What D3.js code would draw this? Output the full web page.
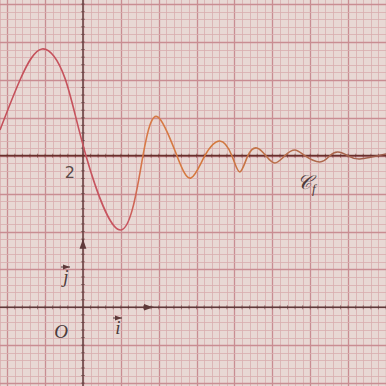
<!DOCTYPE html>
<html>
<head>
<meta charset="utf-8">
<script src="https://cdn.jsdelivr.net/npm/d3@7/dist/d3.min.js"></script>
<style>
  html, body { margin: 0; padding: 0; background: #e8d8d4; }
  svg { display: block; }
</style>
</head>
<body>
<svg id="chart" width="386" height="386"></svg>
<script>
// Curve C_f : sampled points (x, y) in graph units
const curveX = [-1.095, -0.831, -0.541, -0.237, 0.040, 0.501, 0.792, 0.989, 1.240, 1.425,
                1.609, 1.807, 1.966, 2.071, 2.177, 2.296, 2.414, 2.533, 2.665, 2.797,
                2.929, 3.127, 3.259, 3.364, 3.496, 3.654, 4.000];
const curveY = [2.339, 2.999, 3.408, 3.020, 2.000, 1.020, 2.000, 2.511, 2.000, 1.706,
                2.000, 2.194, 2.000, 1.785, 2.000, 2.102, 2.000, 1.904, 2.000, 2.075,
                2.000, 1.917, 2.000, 2.049, 2.000, 1.957, 2.022];
// Horizontal asymptote y = 2
const asymptoteY = 2;
const yTickLabels = ["2"];
// Unit vectors i and j
const unitVectors = [{name: "i", dx: 1, dy: 0}, {name: "j", dx: 0, dy: 1}];

const W = 386, H = 386;
const svg = d3.select("#chart");

const x = d3.scaleLinear().domain([-1.095, 4.0]).range([0, 386]);
const y = d3.scaleLinear().domain([0, 2]).range([307.3, 155.7]);

// Paper background
svg.append("rect").attr("width", W).attr("height", H).attr("fill", "#e8d8d4");

// Millimetre grid: minor every 0.1, major every 0.5
const xs = d3.range(-11, 41).map(k => k / 10);
const ys = d3.range(-11, 42).map(k => k / 10);
const grid = svg.append("g");
const isMajor = v => Math.abs(Math.round(v * 10) % 5) === 0;
const minorCol = "#d8adae", majorCol = "#c98d92";
grid.selectAll("line.vx").data(xs).join("line")
  .attr("x1", d => Math.round(x(d)) + 0.5).attr("x2", d => Math.round(x(d)) + 0.5)
  .attr("y1", 0).attr("y2", H)
  .attr("stroke", d => isMajor(d) ? majorCol : minorCol)
  .attr("stroke-width", d => isMajor(d) ? 1.3 : 0.8);
grid.selectAll("line.hy").data(ys).join("line")
  .attr("y1", d => Math.round(y(d)) + 0.5).attr("y2", d => Math.round(y(d)) + 0.5)
  .attr("x1", 0).attr("x2", W)
  .attr("stroke", d => isMajor(d) ? majorCol : minorCol)
  .attr("stroke-width", d => isMajor(d) ? 1.3 : 0.8);

// Axes through the origin
const axisColor = "#5f3a3a";
svg.append("line").attr("x1", x(0)).attr("x2", x(0)).attr("y1", 0).attr("y2", H)
  .attr("stroke", axisColor).attr("stroke-width", 1.4);
svg.append("line").attr("x1", 0).attr("x2", W).attr("y1", y(0)).attr("y2", y(0))
  .attr("stroke", axisColor).attr("stroke-width", 1.4);

// Small graduation marks along the axes
const tickLen = 2;
svg.append("g").selectAll("line").data(ys).join("line")
  .attr("x1", x(0) - tickLen).attr("x2", x(0) + tickLen)
  .attr("y1", d => y(d)).attr("y2", d => y(d))
  .attr("stroke", axisColor).attr("stroke-width", 0.6);
svg.append("g").selectAll("line").data(xs).join("line")
  .attr("y1", y(0) - tickLen).attr("y2", y(0) + tickLen)
  .attr("x1", d => x(d)).attr("x2", d => x(d))
  .attr("stroke", axisColor).attr("stroke-width", 0.6);

// Asymptote y = 2
svg.append("line").attr("x1", 0).attr("x2", W)
  .attr("y1", y(asymptoteY)).attr("y2", y(asymptoteY))
  .attr("stroke", "#6a302c").attr("stroke-width", 1.7);
svg.append("g").selectAll("line").data(xs).join("line")
  .attr("y1", y(asymptoteY) - tickLen).attr("y2", y(asymptoteY) + tickLen)
  .attr("x1", d => x(d)).attr("x2", d => x(d))
  .attr("stroke", "#6a302c").attr("stroke-width", 0.6);

// Arrowheads for unit vectors
const defs = svg.append("defs");
defs.append("marker").attr("id", "arrow").attr("viewBox", "0 0 10 10")
  .attr("refX", 10).attr("refY", 5).attr("markerWidth", 7).attr("markerHeight", 7)
  .attr("orient", "auto-start-reverse")
  .append("path").attr("d", "M0,1.5 L10,5 L0,8.5 Z").attr("fill", axisColor);
const arrowFrac = 0.93;
svg.append("g").selectAll("line").data(unitVectors).join("line")
  .attr("x1", d => x(d.dx * (arrowFrac - 0.1))).attr("y1", d => y(d.dy * (arrowFrac * 0.97 - 0.1)))
  .attr("x2", d => x(d.dx * arrowFrac)).attr("y2", d => y(d.dy * arrowFrac * 0.97))
  .attr("stroke", axisColor).attr("stroke-width", 1.4)
  .attr("marker-end", "url(#arrow)");

// Curve with a colour gradient along x
const grad = defs.append("linearGradient").attr("id", "curveGrad")
  .attr("gradientUnits", "userSpaceOnUse")
  .attr("x1", 0).attr("x2", W).attr("y1", 0).attr("y2", 0);
[[0, "#c4505a"], [0.33, "#c85560"], [0.37, "#d77a48"], [0.55, "#d4783c"],
 [0.72, "#b9704c"], [1, "#9c5c4c"]].forEach(([o, c]) =>
  grad.append("stop").attr("offset", o).attr("stop-color", c));

const pts = curveX.map((v, i) => [v, curveY[i]]);
const line = d3.line().x(d => x(d[0])).y(d => y(d[1])).curve(d3.curveNatural);
svg.append("path").datum(pts).attr("d", line)
  .attr("fill", "none").attr("stroke", "url(#curveGrad)")
  .attr("stroke-width", 1.6).attr("stroke-linejoin", "round");

// Labels
const textColor = "#4d3c3c";
const serif = "'Liberation Serif', 'DejaVu Serif', serif";
svg.append("text").text(yTickLabels[0])
  .attr("x", x(0) - 8).attr("y", y(asymptoteY) + 22)
  .attr("text-anchor", "end").attr("font-family", "'DejaVu Sans', sans-serif")
  .attr("font-size", 16).attr("fill", "#5a4a4a");
svg.append("text").text("O")
  .attr("x", 61).attr("y", 338).attr("text-anchor", "middle")
  .attr("font-family", serif).attr("font-style", "italic")
  .attr("font-size", 19).attr("fill", textColor);
// vector labels with small arrows above
const vecLabels = [{t: "i", cx: 118, by: 334}, {t: "j", cx: 66, by: 283}];
vecLabels.forEach(v => {
  svg.append("text").text(v.t).attr("x", v.cx).attr("y", v.by)
    .attr("text-anchor", "middle").attr("font-family", serif)
    .attr("font-style", "italic").attr("font-size", 19).attr("fill", textColor);
  svg.append("line").attr("x1", v.cx - 5).attr("x2", v.cx + 4)
    .attr("y1", v.by - 16).attr("y2", v.by - 16)
    .attr("stroke", textColor).attr("stroke-width", 1)
    .attr("marker-end", "url(#arrow)");
});
// C_f
const cf = svg.append("text").attr("x", 297).attr("y", 189)
  .attr("font-family", serif).attr("font-style", "italic").attr("fill", textColor);
cf.append("tspan").text("𝒞").attr("font-size", 20);
cf.append("tspan").text("f").attr("font-size", 13).attr("dy", 4);
</script>
</body>
</html>
